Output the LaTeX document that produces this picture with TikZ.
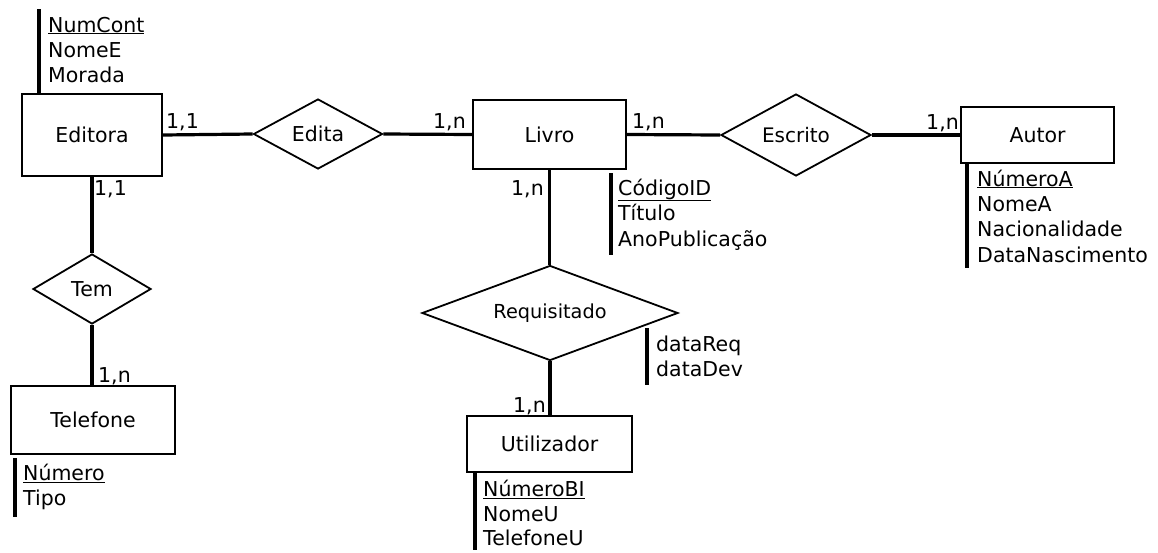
\documentclass[tikz,border=0pt]{standalone}
\usepackage{fontspec}
\setmainfont{DejaVu Sans}
\usetikzlibrary{shapes.geometric}
\tikzset{
  entity/.style={draw, line width=1.8pt, rectangle, inner sep=0pt, font=\fontsize{20.5}{24}\selectfont},
  rel/.style={draw, line width=1.8pt, diamond, inner sep=0pt, font=\fontsize{20.5}{24}\selectfont},
  conn/.style={line width=3.2pt},
  bar/.style={line width=3.2pt},
  card/.style={anchor=base west, inner sep=0pt, font=\fontsize{20.5}{24}\selectfont},
  attr/.style={anchor=base west, inner sep=0pt, font=\fontsize{20.5}{24}\selectfont},
}
\begin{document}
\begin{tikzpicture}[x=1pt,y=-1pt]
\useasboundingbox (0,0) rectangle (1158,552);
% entities
\node[entity, minimum width=140pt, minimum height=82pt] (editora) at (92,135) {Editora};
\node[entity, minimum width=153pt, minimum height=69pt] (livro) at (549.5,134.5) {Livro};
\node[entity, minimum width=153pt, minimum height=56pt] (autor) at (1037.5,135) {Autor};
\node[entity, minimum width=164pt, minimum height=68pt] (telefone) at (93,420) {Telefone};
\node[entity, minimum width=165pt, minimum height=56pt] (utilizador) at (549.5,444) {Utilizador};
% relationships
\node[rel, aspect=1.84, minimum width=129pt, minimum height=70pt] (edita) at (318,134) {Edita};
\node[rel, aspect=1.83, minimum width=150pt, minimum height=82pt, font=\fontsize{20}{24}\selectfont] (escrito) at (796,135) {Escrito};
\node[rel, aspect=1.69, minimum width=118pt, minimum height=70pt] (tem) at (92,289) {Tem};
\node[rel, aspect=2.7, minimum width=256pt, minimum height=95pt, font=\fontsize{19.3}{22}\selectfont] (req) at (550,313) {Requisitado};
% connectors
\draw[conn] (editora.east) -- (edita.west);
\draw[conn] (edita.east) -- (livro.west);
\draw[conn] (livro.east) -- (escrito.west);
\draw[conn] (escrito.east) -- (autor.west);
\draw[conn] (editora.south) -- (tem.north);
\draw[conn] (tem.south) -- (tem.south |- telefone.north);
\draw[conn] (livro.south) -- (livro.south |- req.north);
\draw[conn] (req.south) -- (req.south |- utilizador.north);
% cardinalities
\node[card] (c1) at (166,128) {1,1};
\node[card] (c2) at (433,128) {1,n};
\node[card] (c3) at (632,128) {1,n};
\node[card] (c4) at (926,129) {1,n};
\node[card] (c5) at (94,195) {1,1};
\node[card] (c6) at (98,382) {1,n};
\node[card] (c7) at (511,195) {1,n};
\node[card] (c8) at (513,412) {1,n};
% attributes: Editora
\coordinate (eb1) at (39,9);
\coordinate (eb2) at (39,94);
\draw[bar] (eb1) -- (eb2);
\node[attr] (ea1) at (48,32) {\underline{NumCont}};
\node[attr] (ea2) at (48,57) {NomeE};
\node[attr] (ea3) at (48,82) {Morada};
% attributes: Livro
\coordinate (lb1) at (611,173);
\coordinate (lb2) at (611,255);
\draw[bar] (lb1) -- (lb2);
\node[attr] (la1) at (618,195) {\underline{CódigoID}};
\node[attr] (la2) at (618,220) {Título};
\node[attr] (la3) at (618,246) {AnoPublicação};
% attributes: Autor
\coordinate (ab1) at (967,164);
\coordinate (ab2) at (967,268);
\draw[bar] (ab1) -- (ab2);
\node[attr] (aa1) at (977,186) {\underline{NúmeroA}};
\node[attr] (aa2) at (977,211) {NomeA};
\node[attr] (aa3) at (977,236) {Nacionalidade};
\node[attr] (aa4) at (977,262) {DataNascimento};
% attributes: Requisitado
\coordinate (rb1) at (647,328);
\coordinate (rb2) at (647,385);
\draw[bar] (rb1) -- (rb2);
\node[attr] (ra1) at (656,351) {dataReq};
\node[attr] (ra2) at (656,376) {dataDev};
% attributes: Utilizador
\coordinate (ub1) at (475,472);
\coordinate (ub2) at (475,550);
\draw[bar] (ub1) -- (ub2);
\node[attr] (ua1) at (483,496) {\underline{NúmeroBI}};
\node[attr] (ua2) at (483,521) {NomeU};
\node[attr] (ua3) at (483,545) {TelefoneU};
% attributes: Telefone
\coordinate (tb1) at (15,458);
\coordinate (tb2) at (15,517);
\draw[bar] (tb1) -- (tb2);
\node[attr] (ta1) at (23,480) {\underline{Número}};
\node[attr] (ta2) at (23,505) {Tipo};
\end{tikzpicture}
\end{document}
